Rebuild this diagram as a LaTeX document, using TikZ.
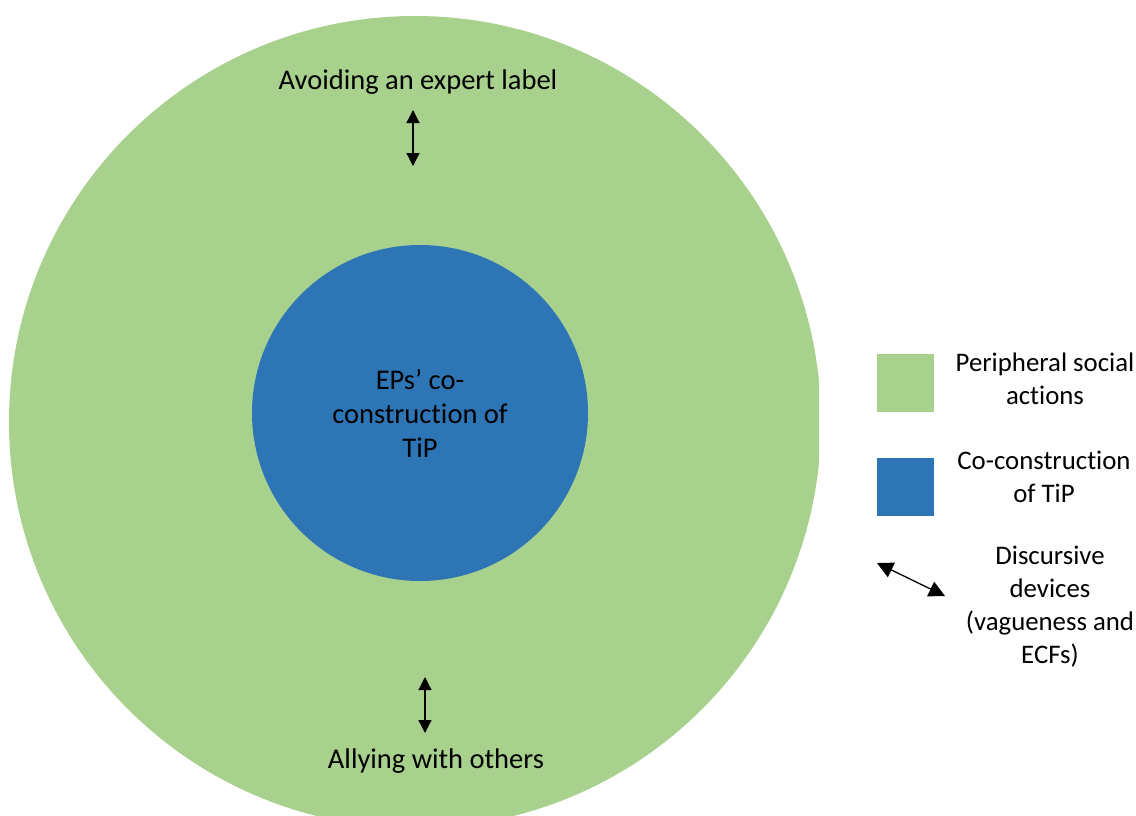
\documentclass[tikz,border=0pt]{standalone}
\usepackage{fontspec}
\setmainfont[Ligatures=NoCommon]{Carlito}
\usetikzlibrary{arrows.meta}
\definecolor{periph}{HTML}{A9D18E}
\definecolor{coreblue}{HTML}{2E75B6}
\tikzset{
  lbl/.style={align=center, font=\fontsize{28.5}{34}\selectfont, text=black, inner sep=0pt},
  keylbl/.style={align=center, font=\fontsize{26.8}{33}\selectfont, text=black, inner sep=0pt},
  dbl/.style={{Triangle[width=13pt,length=13pt]}-{Triangle[width=13pt,length=13pt]}, line width=1.3pt, black},
  dblkey/.style={{Triangle[width=16pt,length=16pt]}-{Triangle[width=16pt,length=16pt]}, line width=1.3pt, black},
  key/.style={minimum width=57pt, minimum height=58pt, inner sep=0pt, draw=none}
}
\begin{document}
\begin{tikzpicture}[x=1pt,y=-1pt]
\useasboundingbox (0,0) rectangle (1136,816);
\begin{scope}
\clip (0,0) rectangle (819,816);
\fill[periph] (415,422) circle (406);
\end{scope}
\node[circle, fill=coreblue, minimum size=336pt, inner sep=0pt] (core) at (420,413) {};
\node[lbl] (coretext) at (420,413) {EPs’ co-\\construction of\\TiP};
\node[lbl] (avoid) at (418,82) {Avoiding an expert label};
\node[lbl] (ally) at (436,761) {Allying with others};
\coordinate (a1) at (413,110);
\coordinate (a2) at (413,166);
\coordinate (b1) at (425,677);
\coordinate (b2) at (425,733);
\draw[dbl] (a1) -- (a2);
\draw[dbl] (b1) -- (b2);
\node[key, fill=periph] (kgreen) at (905.5,383) {};
\node[key, fill=coreblue] (kblue) at (905.5,487) {};
\node[keylbl] (tgreen) at (1045,379) {Peripheral social\\actions};
\node[keylbl] (tblue) at (1044,477) {Co-construction\\of TiP};
\coordinate (k1) at (877,563);
\coordinate (k2) at (945,596);
\draw[dblkey] (k1) -- (k2);
\node[keylbl] (tarrow) at (1050,607) {Discursive\\devices\\(vagueness and\\ECFs)};
\end{tikzpicture}
\end{document}
